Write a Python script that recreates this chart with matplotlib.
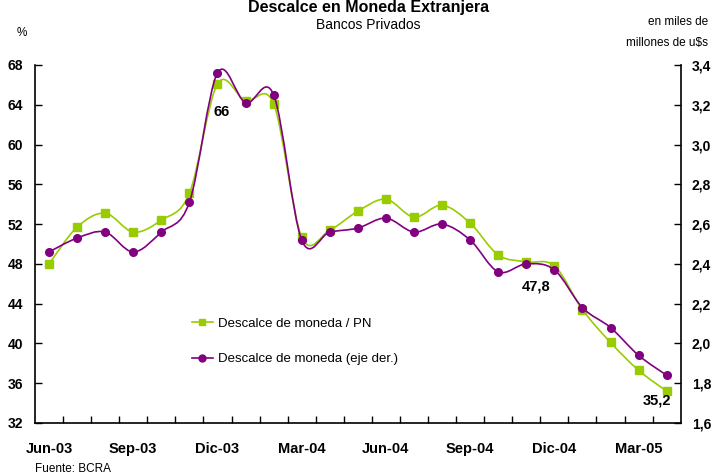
import matplotlib
matplotlib.use("Agg")
import matplotlib.pyplot as plt
import numpy as np
from matplotlib.path import Path
from matplotlib.patches import PathPatch
from matplotlib.lines import Line2D

# datos (Jun-03 a Abr-05, mensual)
meses = ["Jun-03", "Jul-03", "Ago-03", "Sep-03", "Oct-03", "Nov-03", "Dic-03",
         "Ene-04", "Feb-04", "Mar-04", "Abr-04", "May-04", "Jun-04", "Jul-04",
         "Ago-04", "Sep-04", "Oct-04", "Nov-04", "Dic-04", "Ene-05", "Feb-05",
         "Mar-05", "Abr-05"]
descalce_pn = [48.0, 51.7, 53.1, 51.2, 52.4, 55.1, 66.1, 64.4, 64.1, 50.7, 51.4,
               53.3, 54.5, 52.7, 53.9, 52.1, 48.9, 48.2, 47.8, 43.4, 40.1, 37.3, 35.2]
descalce_usd = [2.46, 2.53, 2.56, 2.46, 2.56, 2.71, 3.36, 3.21, 3.25, 2.52, 2.56,
                2.58, 2.63, 2.56, 2.60, 2.52, 2.36, 2.40, 2.37, 2.18, 2.08, 1.94, 1.84]

left_ticks = list(range(32, 69, 4))
right_ticks = [1.6, 1.8, 2.0, 2.2, 2.4, 2.6, 2.8, 3.0, 3.2, 3.4]

VERDE = "#99cc00"
VIOLETA = "#800080"

plt.rcParams["font.family"] = ["Liberation Sans", "DejaVu Sans"]


def curva_suave(xs, ys):
    # bezier tipo excel (catmull-rom)
    pts = np.column_stack([xs, ys]).astype(float)
    n = len(pts)
    verts = [pts[0]]
    codes = [Path.MOVETO]
    for i in range(n - 1):
        p0 = pts[max(i - 1, 0)]
        p1 = pts[i]
        p2 = pts[i + 1]
        p3 = pts[min(i + 2, n - 1)]
        c1 = p1 + (p2 - p0) / 6.0
        c2 = p2 - (p3 - p1) / 6.0
        verts += [c1, c2, p2]
        codes += [Path.CURVE4] * 3
    return Path(verts, codes)


fig = plt.figure(figsize=(7.12, 4.75), dpi=100)
ax = fig.add_axes([35 / 712, 52 / 475, 645.7 / 712, 358 / 475])
ax2 = ax.twinx()

x = np.arange(len(meses))

ax.add_patch(PathPatch(curva_suave(x, descalce_pn), fill=False, edgecolor=VERDE, lw=1.2))
ax.plot(x, descalce_pn, ls="none", marker="s", ms=5.5, color=VERDE)
ax2.add_patch(PathPatch(curva_suave(x, descalce_usd), fill=False, edgecolor=VIOLETA, lw=1.2))
ax2.plot(x, descalce_usd, ls="none", marker="o", ms=5.5, color=VIOLETA)

ax.set_xlim(-0.5, len(meses) - 0.5)
ax.set_ylim(32, 68)
ax2.set_ylim(1.6, 3.4)

ax.set_yticks(left_ticks)
ax.set_yticklabels([str(v) for v in left_ticks], fontsize=10, fontweight="bold")
ax2.set_yticks(right_ticks)
ax2.set_yticklabels([("%.1f" % v).replace(".", ",") for v in right_ticks],
                    fontsize=10, fontweight="bold")

ax.set_xticks(np.arange(0.5, len(meses) - 1, 1.0))
ax.set_xticklabels([])
ax.set_xticks(x[::3], minor=True)
ax.set_xticklabels(meses[::3], minor=True, fontsize=10.5, fontweight="bold")
ax.tick_params(axis="x", which="minor", length=0, pad=14)
ax.tick_params(axis="x", which="major", direction="in", length=5, width=1)
ax.tick_params(axis="y", direction="in", length=5, width=1, pad=8.5)
ax2.tick_params(axis="y", direction="in", length=5, width=1, pad=8)

for a in (ax, ax2):
    a.spines["top"].set_visible(False)
    for s in ("left", "right", "bottom"):
        a.spines[s].set_linewidth(1.2)
ax.spines["right"].set_visible(False)
ax2.spines["left"].set_visible(False)
ax2.spines["bottom"].set_visible(False)

# etiquetas de valores
ax.text(6.15, 63.3, "66", ha="center", va="center", fontsize=10.5, fontweight="bold")
ax.text(17.35, 45.7, "47,8", ha="center", va="center", fontsize=10.5, fontweight="bold")
ax.text(21.65, 34.3, "35,2", ha="center", va="center", fontsize=10.5, fontweight="bold")

handles = [Line2D([], [], color=VERDE, marker="s", ms=5, lw=1.2),
           Line2D([], [], color=VIOLETA, marker="o", ms=5, lw=1.2)]
leg = ax2.legend(handles, ["Descalce de moneda / PN", "Descalce de moneda (eje der.)"],
                 loc="upper left", bbox_to_anchor=(180 / 712, 1 - 306 / 475),
                 bbox_transform=fig.transFigure, frameon=False, fontsize=9.5,
                 handlelength=1.6, handletextpad=0.4, labelspacing=1.75)

fig.text(369 / 712, 1 - 12 / 475, "Descalce en Moneda Extranjera", ha="center",
         va="baseline", fontsize=11.5, fontweight="bold")
fig.text(368 / 712, 1 - 25 / 475, "Bancos Privados", ha="center", va="center",
         fontsize=10)
fig.text(22 / 712, 1 - 33 / 475, "%", ha="center", va="center", fontsize=8.5)
fig.text(708 / 712, 1 - 22 / 475, "en miles de", ha="right", va="center", fontsize=8.5)
fig.text(708 / 712, 1 - 43 / 475, "millones de u$s", ha="right", va="center",
         fontsize=8.5)
fig.text(35 / 712, 1 - 469 / 475, "Fuente: BCRA", ha="left", va="center", fontsize=8.5)

fig.savefig("out.png", dpi=100)
